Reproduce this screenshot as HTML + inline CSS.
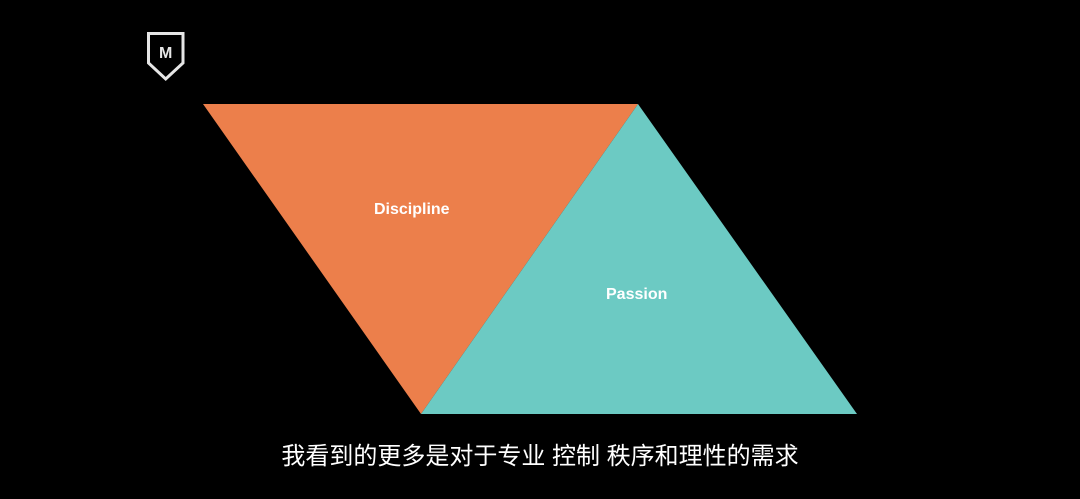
<!DOCTYPE html>
<html><head><meta charset="utf-8"><style>
html,body{margin:0;padding:0;background:#000;}
body{width:1080px;height:499px;position:relative;overflow:hidden;}
.t{position:absolute;color:#fff;font-family:"Liberation Sans",sans-serif;font-weight:bold;font-size:16px;}
.sub{position:absolute;left:0;width:1080px;top:441px;text-align:center;color:#fff;font-family:"Liberation Sans","Noto Sans CJK SC",sans-serif;font-size:24px;line-height:32px;}
</style></head><body>
<svg width="1080" height="499" style="position:absolute;left:0;top:0">
<polygon points="203,104 638,104 421,414" fill="#ec7f4b"/>
<polygon points="638,104 857,414 421,414" fill="#6ccac3"/>
<path d="M148.5,33.5 H183 V63 L165.7,79 L148.5,63 Z" fill="none" stroke="#e6e6e6" stroke-width="3"/>
<text x="165.7" y="58" text-anchor="middle" fill="#e6e6e6" font-family="Liberation Sans" font-weight="bold" font-size="16">M</text>
</svg>
<div class="t" style="left:374px;top:201px;">Discipline</div>
<div class="t" style="left:606px;top:286px;">Passion</div>
<div class="sub">我看到的更多是对于专业 控制 秩序和理性的需求</div>
</body></html>
